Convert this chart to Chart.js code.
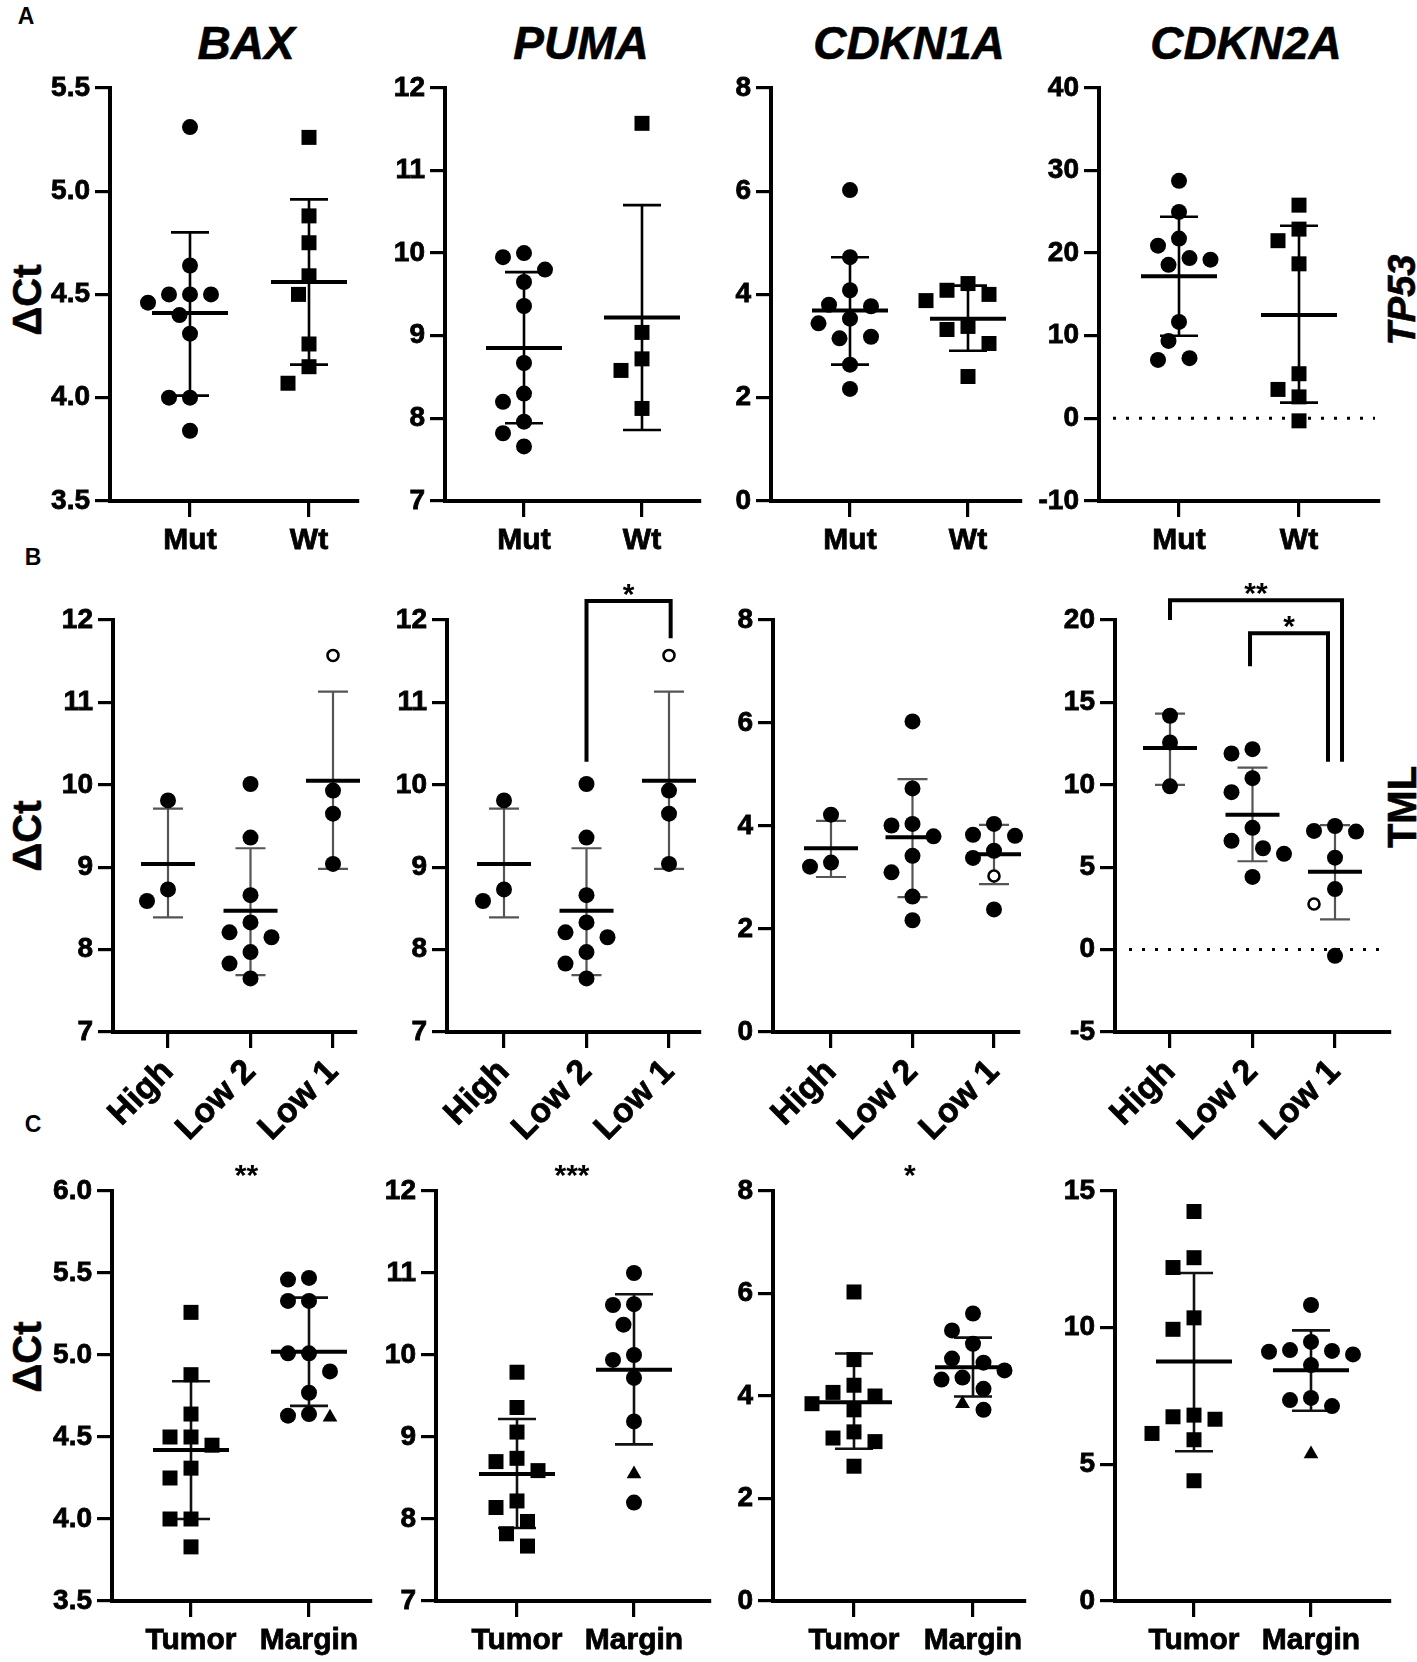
<!DOCTYPE html>
<html>
<head>
<meta charset="utf-8">
<script src="https://cdn.jsdelivr.net/npm/chart.js@4.4.1/dist/chart.umd.min.js"></script>
<style>
  body { margin: 0; background: #fff; width: 1417px; height: 1662px; position: relative; overflow: hidden;
         font-family: "Liberation Sans", Arial, sans-serif; }
  canvas { position: absolute; }
  .t { position: absolute; font-weight: bold; color: #000; white-space: nowrap; transform: translate(-50%, -50%); line-height: 1; }
  .gene { font-style: italic; font-size: 46px; top: 43px; -webkit-text-stroke: 0.6px #000; }
  .rot { transform: translate(-50%, -50%) rotate(-90deg); }
  .dct { font-size: 40px; left: 27px; -webkit-text-stroke: 0.6px #000; }
  .lt { font-size: 23px; }
</style>
</head>
<body>
<div class="t lt" style="left:26px;top:16px">A</div>
<div class="t lt" style="left:33px;top:557px">B</div>
<div class="t lt" style="left:33px;top:1124px">C</div>

<div class="t gene" style="left:246px">BAX</div>
<div class="t gene" style="left:581px">PUMA</div>
<div class="t gene" style="left:909px">CDKN1A</div>
<div class="t gene" style="left:1246px">CDKN2A</div>

<div class="t rot dct" style="top:300px">ΔCt</div>
<div class="t rot dct" style="top:836px">ΔCt</div>
<div class="t rot dct" style="top:1357px">ΔCt</div>

<div class="t rot" style="left:1402px;top:300px;font-size:38px;font-style:italic;-webkit-text-stroke:0.6px #000">TP53</div>
<div class="t rot" style="left:1402px;top:807px;font-size:40px;-webkit-text-stroke:0.6px #000">TML</div>

<script>
const FONT = '"Liberation Sans", Arial, sans-serif';

// categories
const catsA = ['Mut', 'Wt'];
const catsB = ['High', 'Low 2', 'Low 1'];
const catsC = ['Tumor', 'Margin'];

// ---- A: TP53 status ----
const baxMut = [5.31, 4.64, 4.50, 4.50, 4.50, 4.46, 4.40, 4.31, 4.00, 4.00, 3.84];
const baxWt = [5.26, 4.88, 4.75, 4.59, 4.50, 4.26, 4.15, 4.07];
const baxMeanA = [4.41, 4.56], baxHiA = [4.80, 4.96], baxLoA = [4.01, 4.16];

const pumaMut = [10.0, 9.95, 9.80, 9.65, 9.36, 8.67, 8.30, 8.20, 7.96, 7.82, 7.66];
const pumaWt = [11.57, 9.04, 8.72, 8.58, 8.12];
const pumaMeanA = [8.85, 9.22], pumaHiA = [9.77, 10.58], pumaLoA = [7.94, 7.86];

const p21Mut = [6.02, 4.72, 4.08, 3.80, 3.77, 3.53, 3.44, 3.18, 3.15, 2.64, 2.17];
const p21Wt = [4.21, 4.08, 4.00, 3.88, 3.38, 3.32, 3.05, 2.41];
const p21MeanA = [3.69, 3.53], p21HiA = [4.72, 4.17], p21LoA = [2.64, 2.91];

const p16Mut = [28.74, 24.98, 21.75, 20.9, 19.4, 19.2, 18.58, 11.67, 9.37, 7.28, 7.07];
const p16Wt = [25.8, 22.9, 21.5, 18.7, 5.4, 3.5, 2.6, -0.3];
const p16MeanA = [17.2, 12.5], p16HiA = [24.4, 23.3], p16LoA = [10.0, 1.9];

// ---- B: TML groups ----
const tmlBaxHigh = [9.81, 8.73, 8.59];
const tmlBaxLow2 = [10.01, 9.36, 8.66, 8.33, 8.21, 8.15, 7.97, 7.83, 7.65];
const tmlBaxLow1 = [9.93, 9.65, 9.04];
const tmlBaxLow1Open = [11.57];
const tmlBaxMean = [9.04, 8.47, 10.05], tmlBaxHi = [9.71, 9.23, 11.13], tmlBaxLo = [8.39, 7.69, 8.98];

const tmlPumaHigh = [9.81, 8.73, 8.59];
const tmlPumaLow2 = [10.01, 9.36, 8.66, 8.33, 8.21, 8.15, 7.97, 7.83, 7.65];
const tmlPumaLow1 = [9.93, 9.65, 9.04];
const tmlPumaLow1Open = [11.57];
const tmlPumaMean = [9.04, 8.47, 10.05], tmlPumaHi = [9.71, 9.23, 11.13], tmlPumaLo = [8.39, 7.69, 8.98];

const tmlP21High = [4.22, 3.29, 3.21];
const tmlP21Low2 = [6.03, 4.73, 4.04, 4.01, 3.80, 3.42, 3.10, 2.63, 2.17];
const tmlP21Low1 = [4.04, 3.83, 3.81, 3.52, 3.38, 2.38];
const tmlP21Low1Open = [3.03];
const tmlP21Mean = [3.57, 3.78, 3.45], tmlP21Hi = [4.10, 4.91, 4.02], tmlP21Lo = [3.01, 2.62, 2.87];

const tmlP16High = [14.19, 12.57, 9.91];
const tmlP16Low2 = [12.16, 11.9, 10.4, 9.55, 7.39, 6.6, 6.15, 5.81, 4.41];
const tmlP16Low1 = [7.5, 7.2, 7.16, 5.58, 3.67, -0.38];
const tmlP16Low1Open = [2.77];
const tmlP16Mean = [12.23, 8.18, 4.73], tmlP16Hi = [14.32, 11.04, 7.55], tmlP16Lo = [10.0, 5.36, 1.83];

// ---- C: tumor vs margin ----
const tmBaxTumor = [5.26, 4.88, 4.64, 4.50, 4.50, 4.45, 4.31, 4.25, 4.00, 4.00, 3.83];
const tmBaxMargin = [5.47, 5.46, 5.33, 5.33, 5.01, 5.01, 4.90, 4.77, 4.64, 4.63];
const tmBaxMarginTri = [4.62];
const tmBaxMean = [4.42, 5.02], tmBaxHi = [4.84, 5.35], tmBaxLo = [4.00, 4.69];

const tmPumaTumor = [9.79, 9.36, 9.06, 8.74, 8.70, 8.59, 8.22, 8.14, 7.97, 7.82, 7.67];
const tmPumaMargin = [11.0, 10.62, 10.61, 10.37, 10.0, 9.94, 9.72, 9.19, 8.20];
const tmPumaMarginTri = [8.55];
const tmPumaMean = [8.55, 9.82], tmPumaHi = [9.22, 10.74], tmPumaLo = [7.89, 8.91];

const tmP21Tumor = [6.03, 4.71, 4.21, 4.07, 4.00, 3.85, 3.73, 3.30, 3.18, 3.11, 2.63];
const tmP21Margin = [5.61, 5.28, 5.02, 4.73, 4.65, 4.50, 4.36, 4.32, 4.14, 3.73];
const tmP21MarginTri = [3.85];
const tmP21Mean = [3.88, 4.56], tmP21Hi = [4.83, 5.14], tmP21Lo = [2.97, 3.99];

const tmP16Tumor = [14.25, 12.56, 12.2, 10.36, 9.94, 6.80, 6.74, 6.65, 6.13, 5.90, 4.40];
const tmP16Margin = [10.83, 9.48, 9.18, 9.15, 9.12, 9.02, 8.63, 7.43, 7.35, 7.13];
const tmP16MarginTri = [5.38];
const tmP16Mean = [8.76, 8.44], tmP16Hi = [12.0, 9.9], tmP16Lo = [5.48, 6.96];

// ---- layout ----
const YW = 80, PADR = 12;
const rows = {
  A: { top: 86, bottom: 501, padT: 20, xH: 64, barColor: '#000', barW: 2.6, meanW: 4, meanHalf: 38, capHalf: 19, rot: 0, font: 30, pad: 6 },
  B: { top: 620, bottom: 1032, padT: 52, xH: 112, barColor: '#555', barW: 2.2, meanW: 4, meanHalf: 27, capHalf: 15, rot: 45, font: 34, pad: 4 },
  C: { top: 1191, bottom: 1601, padT: 46, xH: 60, barColor: '#111', barW: 2.6, meanW: 4, meanHalf: 38, capHalf: 19, rot: 0, font: 30, pad: 6 }
};

const panels = [
  { row: 'A', axisX: 110, g1: 190, step: 119, endX: 358, yMin: 3.5, yMax: 5.5, yStep: 0.5, dec: 1, cats: catsA,
    groups: [{ vals: baxMut, shape: 'circle' }, { vals: baxWt, shape: 'rect' }], mean: baxMeanA, hi: baxHiA, lo: baxLoA },
  { row: 'A', axisX: 445, g1: 524, step: 118, endX: 700, yMin: 7, yMax: 12, yStep: 1, dec: 0, cats: catsA,
    groups: [{ vals: pumaMut, shape: 'circle' }, { vals: pumaWt, shape: 'rect' }], mean: pumaMeanA, hi: pumaHiA, lo: pumaLoA },
  { row: 'A', axisX: 771, g1: 850, step: 118, endX: 1021, yMin: 0, yMax: 8, yStep: 2, dec: 0, cats: catsA,
    groups: [{ vals: p21Mut, shape: 'circle' }, { vals: p21Wt, shape: 'rect' }], mean: p21MeanA, hi: p21HiA, lo: p21LoA },
  { row: 'A', axisX: 1099, g1: 1179, step: 120, endX: 1379, yMin: -10, yMax: 40, yStep: 10, dec: 0, cats: catsA, zero: true,
    groups: [{ vals: p16Mut, shape: 'circle' }, { vals: p16Wt, shape: 'rect' }], mean: p16MeanA, hi: p16HiA, lo: p16LoA },

  { row: 'B', axisX: 113, g1: 168, step: 82.5, endX: 356, yMin: 7, yMax: 12, yStep: 1, dec: 0, cats: catsB,
    groups: [{ vals: tmlBaxHigh, shape: 'circle' }, { vals: tmlBaxLow2, shape: 'circle' }, { vals: tmlBaxLow1, shape: 'circle', open: tmlBaxLow1Open }],
    mean: tmlBaxMean, hi: tmlBaxHi, lo: tmlBaxLo },
  { row: 'B', axisX: 447, g1: 504, step: 82.5, endX: 700, yMin: 7, yMax: 12, yStep: 1, dec: 0, cats: catsB,
    groups: [{ vals: tmlPumaHigh, shape: 'circle' }, { vals: tmlPumaLow2, shape: 'circle' }, { vals: tmlPumaLow1, shape: 'circle', open: tmlPumaLow1Open }],
    mean: tmlPumaMean, hi: tmlPumaHi, lo: tmlPumaLo,
    brackets: [{ x1: 2, x2: 3.02, y: 12.23, y1: 10.28, y2: 11.78, label: '*' }] },
  { row: 'B', axisX: 773, g1: 831, step: 81.5, endX: 1019, yMin: 0, yMax: 8, yStep: 2, dec: 0, cats: catsB,
    groups: [{ vals: tmlP21High, shape: 'circle' }, { vals: tmlP21Low2, shape: 'circle' }, { vals: tmlP21Low1, shape: 'circle', open: tmlP21Low1Open }],
    mean: tmlP21Mean, hi: tmlP21Hi, lo: tmlP21Lo },
  { row: 'B', axisX: 1115, g1: 1170, step: 82.5, endX: 1390, yMin: -5, yMax: 20, yStep: 5, dec: 0, cats: catsB, zero: true,
    groups: [{ vals: tmlP16High, shape: 'circle' }, { vals: tmlP16Low2, shape: 'circle' }, { vals: tmlP16Low1, shape: 'circle', open: tmlP16Low1Open }],
    mean: tmlP16Mean, hi: tmlP16Hi, lo: tmlP16Lo,
    brackets: [{ x1: 1, x2: 3.085, y: 21.2, y1: 20.0, y2: 11.4, label: '**' },
               { x1: 1.97, x2: 2.915, y: 19.2, y1: 17.2, y2: 11.4, label: '*' }] },

  { row: 'C', axisX: 112, g1: 191, step: 118, endX: 371, yMin: 3.5, yMax: 6.0, yStep: 0.5, dec: 1, cats: catsC, star: '**',
    groups: [{ vals: tmBaxTumor, shape: 'rect' }, { vals: tmBaxMargin, shape: 'circle', tri: tmBaxMarginTri }],
    mean: tmBaxMean, hi: tmBaxHi, lo: tmBaxLo },
  { row: 'C', axisX: 436, g1: 517, step: 117, endX: 710, yMin: 7, yMax: 12, yStep: 1, dec: 0, cats: catsC, star: '***',
    groups: [{ vals: tmPumaTumor, shape: 'rect' }, { vals: tmPumaMargin, shape: 'circle', tri: tmPumaMarginTri }],
    mean: tmPumaMean, hi: tmPumaHi, lo: tmPumaLo },
  { row: 'C', axisX: 773, g1: 854, step: 119, endX: 1025, yMin: 0, yMax: 8, yStep: 2, dec: 0, cats: catsC, star: '*',
    groups: [{ vals: tmP21Tumor, shape: 'rect' }, { vals: tmP21Margin, shape: 'circle', tri: tmP21MarginTri }],
    mean: tmP21Mean, hi: tmP21Hi, lo: tmP21Lo },
  { row: 'C', axisX: 1115, g1: 1194, step: 117, endX: 1390, yMin: 0, yMax: 15, yStep: 5, dec: 0, cats: catsC,
    groups: [{ vals: tmP16Tumor, shape: 'rect' }, { vals: tmP16Margin, shape: 'circle', tri: tmP16MarginTri }],
    mean: tmP16Mean, hi: tmP16Hi, lo: tmP16Lo }
];

const markerStyle = {
  circle:   { pointStyle: 'circle',   pointRadius: 8,    pointBackgroundColor: '#000', pointBorderColor: '#000', pointBorderWidth: 0 },
  rect:     { pointStyle: 'rect',     pointRadius: 10.6, pointBackgroundColor: '#000', pointBorderColor: '#000', pointBorderWidth: 0 },
  open:     { pointStyle: 'circle',   pointRadius: 5.5,  pointBackgroundColor: '#fff', pointBorderColor: '#000', pointBorderWidth: 2.6 },
  triangle: { pointStyle: 'triangle', pointRadius: 8.5,  pointBackgroundColor: '#000', pointBorderColor: '#000', pointBorderWidth: 0 }
};

// spread points sideways like a column scatter (pixel space)
function swarm(items, pxY, d) {
  const placed = [];
  items.slice().sort((a, b) => b.v - a.v).forEach(it => {
    const y = it.v * pxY;
    for (let k = 0; k < 60; k++) {
      const off = (k % 2 ? -1 : 1) * Math.ceil(k / 2) * d / 2;
      if (placed.every(p => Math.hypot(p.off - off, p.y - y) >= d)) {
        it.off = off;
        placed.push({ off, y });
        break;
      }
    }
  });
}

function buildDatasets(p, row) {
  const pxY = (row.bottom - row.top) / (p.yMax - p.yMin);
  const out = [];
  p.groups.forEach((g, gi) => {
    const items = g.vals.map(v => ({ v, kind: g.shape }))
      .concat((g.open || []).map(v => ({ v, kind: 'open' })))
      .concat((g.tri || []).map(v => ({ v, kind: 'triangle' })));
    swarm(items, pxY, 21);
    ['circle', 'rect', 'triangle', 'open'].forEach(kind => {
      const pts = items.filter(it => it.kind === kind).map(it => ({ x: gi + 1 + it.off / p.step, y: it.v }));
      if (pts.length) out.push(Object.assign({ data: pts, clip: false, showLine: false }, markerStyle[kind]));
    });
  });
  return out;
}

function statsPlugin(p, row, idx) {
  return {
    id: 'stats' + idx,
    beforeDatasetsDraw(chart) {
      const { ctx, chartArea } = chart;
      const x = chart.scales.x, y = chart.scales.y;
      ctx.save();
      if (p.zero) {
        const y0 = y.getPixelForValue(0);
        ctx.setLineDash([3, 10]);
        ctx.lineWidth = 3;
        ctx.strokeStyle = '#000';
        ctx.beginPath();
        ctx.moveTo(chartArea.left + 14, y0);
        ctx.lineTo(chartArea.right - 4, y0);
        ctx.stroke();
        ctx.setLineDash([]);
      }
      p.mean.forEach((m, i) => {
        const cx = x.getPixelForValue(i + 1);
        const yh = y.getPixelForValue(p.hi[i]);
        const yl = y.getPixelForValue(p.lo[i]);
        const ym = y.getPixelForValue(m);
        ctx.strokeStyle = row.barColor;
        ctx.lineWidth = row.barW;
        ctx.beginPath();
        ctx.moveTo(cx, yh); ctx.lineTo(cx, yl);
        ctx.moveTo(cx - row.capHalf, yh); ctx.lineTo(cx + row.capHalf, yh);
        ctx.moveTo(cx - row.capHalf, yl); ctx.lineTo(cx + row.capHalf, yl);
        ctx.stroke();
        ctx.strokeStyle = '#000';
        ctx.lineWidth = row.meanW;
        ctx.beginPath();
        ctx.moveTo(cx - row.meanHalf, ym); ctx.lineTo(cx + row.meanHalf, ym);
        ctx.stroke();
      });
      ctx.restore();
    },
    afterDraw(chart) {
      const { ctx, chartArea } = chart;
      const x = chart.scales.x, y = chart.scales.y;
      ctx.save();
      ctx.fillStyle = '#000';
      ctx.strokeStyle = '#000';
      ctx.font = 'bold 30px ' + FONT;
      ctx.textAlign = 'center';
      ctx.textBaseline = 'alphabetic';
      (p.brackets || []).forEach(b => {
        const x1 = x.getPixelForValue(b.x1), x2 = x.getPixelForValue(b.x2);
        const yt = y.getPixelForValue(b.y);
        ctx.lineWidth = 4;
        ctx.lineJoin = 'miter';
        ctx.beginPath();
        ctx.moveTo(x1, y.getPixelForValue(b.y1));
        ctx.lineTo(x1, yt);
        ctx.lineTo(x2, yt);
        ctx.lineTo(x2, y.getPixelForValue(b.y2));
        ctx.stroke();
        ctx.fillText(b.label, (x1 + x2) / 2, yt + 3);
      });
      if (p.star) {
        ctx.fillText(p.star, x.getPixelForValue(1.47), chartArea.top - 6);
      }
      ctx.restore();
    }
  };
}

panels.forEach((p, idx) => {
  const row = rows[p.row];
  const cv = document.createElement('canvas');
  const w = YW + (p.endX - p.axisX) + PADR;
  const h = row.padT + (row.bottom - row.top) + row.xH;
  cv.width = w; cv.height = h;
  cv.style.left = (p.axisX - YW) + 'px';
  cv.style.top = (row.top - row.padT) + 'px';
  cv.style.width = w + 'px';
  cv.style.height = h + 'px';
  document.body.appendChild(cv);

  const xmin = 1 - (p.g1 - p.axisX) / p.step;
  const xmax = 1 + (p.endX - p.g1) / p.step;

  new Chart(cv, {
    type: 'scatter',
    data: { datasets: buildDatasets(p, row) },
    options: {
      responsive: false,
      animation: false,
      events: [],
      layout: { padding: { top: row.padT, right: PADR, left: 0, bottom: 0 } },
      plugins: { legend: { display: false }, tooltip: { enabled: false } },
      scales: {
        x: {
          type: 'linear', min: xmin, max: xmax,
          afterBuildTicks: ax => { ax.ticks = p.cats.map((c, i) => ({ value: i + 1 })); },
          afterFit: ax => { ax.height = row.xH; },
          grid: { drawOnChartArea: false, drawTicks: true, tickLength: 16, color: '#000', lineWidth: 3.2 },
          border: { display: true, color: '#000', width: 4 },
          ticks: {
            color: '#000', autoSkip: false, padding: row.pad,
            maxRotation: row.rot, minRotation: row.rot,
            textStrokeColor: '#000', textStrokeWidth: 0.8,
            font: { family: FONT, size: row.font, weight: 'bold' },
            callback: v => p.cats[Math.round(v) - 1] || ''
          }
        },
        y: {
          type: 'linear', min: p.yMin, max: p.yMax,
          afterFit: ax => { ax.width = YW; },
          grid: { drawOnChartArea: false, drawTicks: true, tickLength: 15, color: '#000', lineWidth: 3.2 },
          border: { display: true, color: '#000', width: 4 },
          ticks: {
            stepSize: p.yStep, color: '#000', padding: 5,
            textStrokeColor: '#000', textStrokeWidth: 0.8,
            font: { family: FONT, size: 28, weight: 'bold' },
            callback: v => Number(v).toFixed(p.dec)
          }
        }
      }
    },
    plugins: [statsPlugin(p, row, idx)]
  });
});
</script>
</body>
</html>
